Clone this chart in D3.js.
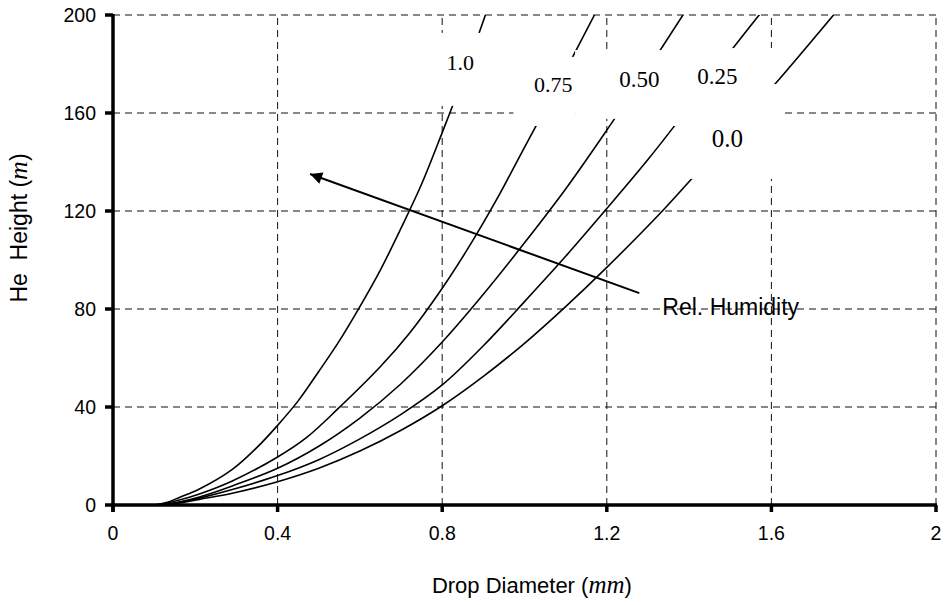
<!DOCTYPE html>
<html>
<head>
<meta charset="utf-8">
<script src="https://cdn.jsdelivr.net/npm/d3@7"></script>
<style>
  body { margin: 0; background: #fff; }
  svg { display: block; }
</style>
</head>
<body>
<div id="chart"></div>
<script>
// tick values and labels
var xTicks = [0, 0.4, 0.8, 1.2, 1.6, 2];
var xTickLabels = ["0", "0.4", "0.8", "1.2", "1.6", "2"];
var yTicks = [0, 40, 80, 120, 160, 200];
var yTickLabels = ["0", "40", "80", "120", "160", "200"];

// relative humidity curves: [diameter mm, height m]
var rh100 = [[0.10, 0], [0.13, 1], [0.16, 3], [0.21, 6.5], [0.29, 14.5], [0.35, 23.5], [0.40, 32.5], [0.45, 42.5], [0.50, 54.5], [0.55, 67], [0.60, 81], [0.65, 96], [0.70, 113], [0.75, 131], [0.80, 152], [0.85, 174], [0.905, 200]];
var rh75 = [[0.11, 0], [0.15, 1.5], [0.21, 4.5], [0.29, 9.8], [0.40, 19.6], [0.47, 27.5], [0.545, 39], [0.65, 56.5], [0.72, 70], [0.79, 86], [0.86, 104], [0.93, 124], [1.00, 146], [1.08, 171], [1.17, 200]];
var rh50 = [[0.12, 0], [0.16, 1.2], [0.21, 3.3], [0.29, 7.8], [0.40, 15], [0.50, 24], [0.60, 35.5], [0.70, 49.5], [0.80, 66.5], [0.90, 86], [1.00, 107], [1.10, 129], [1.20, 153], [1.30, 178], [1.385, 200]];
var rh25 = [[0.12, 0], [0.16, 1], [0.21, 2.8], [0.29, 6.3], [0.40, 12], [0.50, 18.5], [0.60, 27], [0.70, 37], [0.80, 49], [0.90, 65], [1.00, 83], [1.10, 101.5], [1.20, 121], [1.30, 141], [1.40, 162.5], [1.50, 185], [1.575, 201]];
var rh0 = [[0.13, 0], [0.17, 1], [0.21, 2.3], [0.29, 4.8], [0.40, 9.5], [0.50, 15], [0.60, 22], [0.70, 30.5], [0.80, 40.5], [0.90, 52.5], [1.00, 66], [1.10, 81], [1.20, 97], [1.335, 120], [1.408, 133.5], [1.61, 172], [1.751, 200]];

var curves = [rh100, rh75, rh50, rh25, rh0];
var curveLabels = ["1.0", "0.75", "0.50", "0.25", "0.0"];

var width = 948, height = 605;

var svg = d3.select("#chart")
  .append("svg")
  .attr("width", width)
  .attr("height", height);

var x = d3.scaleLinear().domain([0, 2]).range([113, 936]);
var y = d3.scaleLinear().domain([0, 200]).range([505, 15]);

// clip for the curves
svg.append("defs").append("clipPath")
  .attr("id", "plotclip")
  .append("rect")
  .attr("x", x(0)).attr("y", y(200))
  .attr("width", x(2) - x(0)).attr("height", y(0) - y(200));

// arrowhead
svg.select("defs").append("marker")
  .attr("id", "arrow")
  .attr("viewBox", "0 -5 10 10")
  .attr("refX", 10)
  .attr("refY", 0)
  .attr("markerWidth", 8)
  .attr("markerHeight", 6)
  .attr("markerUnits", "strokeWidth")
  .attr("orient", "auto")
  .append("path")
  .attr("d", "M0,-5L10,0L0,5Z")
  .attr("fill", "#000");

// dashed grid
var grid = svg.append("g").attr("stroke", "#111").attr("stroke-width", 1).attr("stroke-dasharray", "7,5");
grid.selectAll(".hg")
  .data(yTicks.slice(1))
  .enter().append("line")
  .attr("x1", x(0)).attr("x2", x(2))
  .attr("y1", function (d) { return y(d); })
  .attr("y2", function (d) { return y(d); });
grid.selectAll(".vg")
  .data(xTicks.slice(1))
  .enter().append("line")
  .attr("y1", y(0)).attr("y2", y(200))
  .attr("x1", function (d) { return x(d); })
  .attr("x2", function (d) { return x(d); });

// curves
var line = d3.line()
  .x(function (d) { return x(d[0]); })
  .y(function (d) { return y(d[1]); })
  .curve(d3.curveCatmullRom.alpha(0.5));

svg.append("g")
  .attr("clip-path", "url(#plotclip)")
  .selectAll("path")
  .data(curves)
  .enter().append("path")
  .attr("d", line)
  .attr("fill", "none")
  .attr("stroke", "#000")
  .attr("stroke-width", 1.6);

// white label boxes that cover curves and grid (in data units)
var boxes = [
  { x0: 0.771, x1: 0.953, y0: 162.9, y1: 192.7 },
  { x0: 0.973, x1: 1.123, y0: 154.7, y1: 182.9 },
  { x0: 1.123, x1: 1.335, y0: 157.6, y1: 185.7 },
  { x0: 1.335, x1: 1.605, y0: 154.7, y1: 186.5 },
  { x0: 1.403, x1: 1.629, y0: 133.1, y1: 171.8 }
];
svg.append("g").selectAll("rect")
  .data(boxes)
  .enter().append("rect")
  .attr("x", function (d) { return x(d.x0); })
  .attr("y", function (d) { return y(d.y1); })
  .attr("width", function (d) { return x(d.x1) - x(d.x0); })
  .attr("height", function (d) { return y(d.y0) - y(d.y1); })
  .attr("fill", "#fff");

// curve labels
var labelPos = [[0.844, 177.6, 22], [1.07, 168.6, 22], [1.279, 170.6, 23], [1.469, 171.8, 23], [1.493, 146.1, 25]];
svg.append("g").selectAll("text")
  .data(curveLabels)
  .enter().append("text")
  .attr("x", function (d, i) { return x(labelPos[i][0]); })
  .attr("y", function (d, i) { return y(labelPos[i][1]); })
  .attr("text-anchor", "middle")
  .attr("font-family", "'Liberation Serif', 'Times New Roman', serif")
  .attr("font-size", function (d, i) { return labelPos[i][2] + "px"; })
  .text(function (d) { return d; });

// arrow for relative humidity
svg.append("line")
  .attr("x1", x(1.279)).attr("y1", y(86.5))
  .attr("x2", x(0.479)).attr("y2", y(135.1))
  .attr("stroke", "#000")
  .attr("stroke-width", 2)
  .attr("marker-end", "url(#arrow)");

svg.append("text")
  .attr("x", x(1.335)).attr("y", y(77.6))
  .attr("font-family", "'Liberation Sans', Arial, sans-serif")
  .attr("font-size", "23px")
  .text("Rel. Humidity");

// axes
var axes = svg.append("g").attr("stroke", "#000").attr("stroke-width", 3.5);
axes.append("line")
  .attr("x1", x(0)).attr("x2", x(0))
  .attr("y1", y(200) - 1).attr("y2", y(0) + 7);
axes.append("line")
  .attr("x1", x(0) - 1).attr("x2", x(2) + 1)
  .attr("y1", y(0)).attr("y2", y(0));
axes.selectAll(".yt")
  .data(yTicks)
  .enter().append("line")
  .attr("x1", x(0) - 8).attr("x2", x(0))
  .attr("y1", function (d) { return y(d); })
  .attr("y2", function (d) { return y(d); });
axes.selectAll(".xt")
  .data(xTicks)
  .enter().append("line")
  .attr("y1", y(0)).attr("y2", y(0) + 7)
  .attr("x1", function (d) { return x(d); })
  .attr("x2", function (d) { return x(d); });

svg.append("g").selectAll("text")
  .data(yTicks)
  .enter().append("text")
  .attr("x", x(0) - 17)
  .attr("y", function (d) { return y(d); })
  .attr("dy", "0.36em")
  .attr("text-anchor", "end")
  .attr("font-family", "'Liberation Sans', Arial, sans-serif")
  .attr("font-size", "19.5px")
  .text(function (d, i) { return yTickLabels[i]; });

svg.append("g").selectAll("text")
  .data(xTicks)
  .enter().append("text")
  .attr("x", function (d) { return x(d); })
  .attr("y", y(0) + 35)
  .attr("text-anchor", "middle")
  .attr("font-family", "'Liberation Sans', Arial, sans-serif")
  .attr("font-size", "19.5px")
  .text(function (d, i) { return xTickLabels[i]; });

// axis titles
var xTitle = svg.append("text")
  .attr("x", x(0.775))
  .attr("y", 593)
  .attr("font-family", "'Liberation Sans', Arial, sans-serif")
  .attr("font-size", "22px");
xTitle.append("tspan").text("Drop Diameter (");
xTitle.append("tspan").attr("font-family", "'Liberation Serif', serif").attr("font-style", "italic").attr("font-size", "25px").text("mm");
xTitle.append("tspan").text(")");

var yTitle = svg.append("text")
  .attr("transform", "translate(27,228) rotate(-90)")
  .attr("text-anchor", "middle")
  .attr("font-family", "'Liberation Sans', Arial, sans-serif")
  .attr("font-size", "23px")
  .attr("xml:space", "preserve");
yTitle.append("tspan").text("He  Height (");
yTitle.append("tspan").attr("font-family", "'Liberation Serif', serif").attr("font-style", "italic").attr("font-size", "26px").text("m");
yTitle.append("tspan").text(")");
</script>
</body>
</html>
